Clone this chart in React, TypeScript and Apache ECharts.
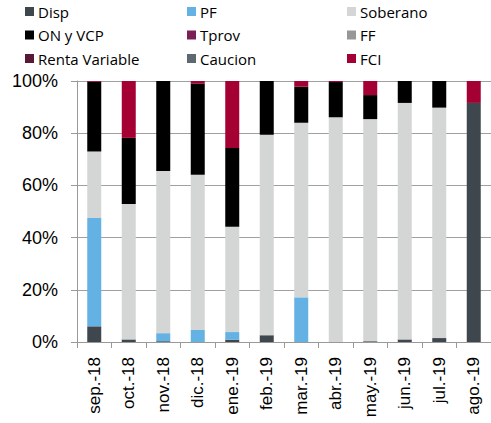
import React, { useEffect, useRef } from "react";
import * as echarts from "echarts";

const categories = ["sep.-18", "oct.-18", "nov.-18", "dic.-18", "ene.-19", "feb.-19", "mar.-19", "abr.-19", "may.-19", "jun.-19", "jul.-19", "ago.-19"];
const disp = [6.0, 1.0, 0.3, 0, 0.9, 2.6, 0, 0, 0.3, 1.0, 1.5, 91.6];
const pf = [41.5, 0, 3.1, 4.6, 2.9, 0, 17.1, 0, 0, 0, 0, 0];
const soberano = [25.5, 51.9, 62.1, 59.5, 40.4, 76.8, 66.9, 86.1, 85.1, 90.6, 88.3, 0];
const onVcp = [26.7, 25.3, 34.5, 34.9, 30.1, 20.6, 13.8, 13.5, 9.2, 8.4, 10.2, 0];
const tprov = [0, 0, 0, 0, 0, 0, 0, 0, 0, 0, 0, 0];
const ff = [0, 0, 0, 0, 0, 0, 0, 0, 0, 0, 0, 0];
const rentaVariable = [0, 0, 0, 0, 0, 0, 0, 0, 0, 0, 0, 0];
const caucion = [0, 0, 0, 0, 0, 0, 0, 0, 0, 0, 0, 0];
const fci = [0.3, 21.8, 0, 1.0, 25.7, 0, 2.2, 0.4, 5.4, 0, 0, 8.4];

const seriesDefs = [
  { name: "Disp", data: disp, color: "#3F474E" },
  { name: "PF", data: pf, color: "#64B1E4" },
  { name: "Soberano", data: soberano, color: "#D4D5D5" },
  { name: "ON y VCP", data: onVcp, color: "#000000" },
  { name: "Tprov", data: tprov, color: "#7B1F54" },
  { name: "FF", data: ff, color: "#979797" },
  { name: "Renta Variable", data: rentaVariable, color: "#5A1838" },
  { name: "Caucion", data: caucion, color: "#5E6870" },
  { name: "FCI", data: fci, color: "#A50034" },
];

const legendCols = [
  { names: ["Disp", "ON y VCP", "Renta Variable"], left: 25 },
  { names: ["PF", "Tprov", "Caucion"], left: 187 },
  { names: ["Soberano", "FF", "FCI"], left: 347 },
];

export default function App() {
  const ref = useRef<HTMLDivElement>(null);
  useEffect(() => {
    if (!ref.current) return;
    const chart = echarts.init(ref.current, null, { renderer: "svg" });
    const axisFont = "'Liberation Sans', Arial, sans-serif";
    chart.setOption({
      animation: false,
      backgroundColor: "#ffffff",
      color: seriesDefs.map((s) => s.color),
      legend: legendCols.map((c) => ({
        data: c.names,
        orient: "vertical",
        left: c.left,
        top: 4,
        padding: 0,
        itemWidth: 9,
        itemHeight: 9,
        itemGap: 8.5,
        icon: "rect",
        selectedMode: false,
        textStyle: { fontFamily: "'Open Sans', sans-serif", fontSize: 15, color: "#000", lineHeight: 14, padding: [0, 0, 0, -1] },
      })),
      grid: { left: 77, top: 81, width: 420, height: 261, containLabel: false },
      xAxis: {
        type: "category",
        data: categories,
        axisLine: { lineStyle: { color: "#999999", width: 1 } },
        axisTick: { show: true, length: 6, lineStyle: { color: "#999999" } },
        axisLabel: { rotate: 90, fontFamily: axisFont, fontSize: 17, color: "#000", margin: 15 },
      },
      yAxis: {
        type: "value",
        min: 0,
        max: 100,
        interval: 20,
        axisLine: { show: true, lineStyle: { color: "#999999", width: 1 } },
        axisTick: { show: true, length: 6, lineStyle: { color: "#999999" } },
        splitLine: { lineStyle: { color: "#A0A0A0", width: 1.2 } },
        axisLabel: { formatter: "{value}%", fontFamily: axisFont, fontSize: 18, color: "#000", margin: 19 },
      },
      series: seriesDefs.map((s) => ({
        name: s.name,
        type: "bar",
        stack: "total",
        barWidth: 14,
        data: s.data,
        itemStyle: { color: s.color },
      })),
    });
    return () => chart.dispose();
  }, []);
  return <div ref={ref} style={{ position: "fixed", left: 0, top: 0, width: 491, height: 423 }} />;
}
